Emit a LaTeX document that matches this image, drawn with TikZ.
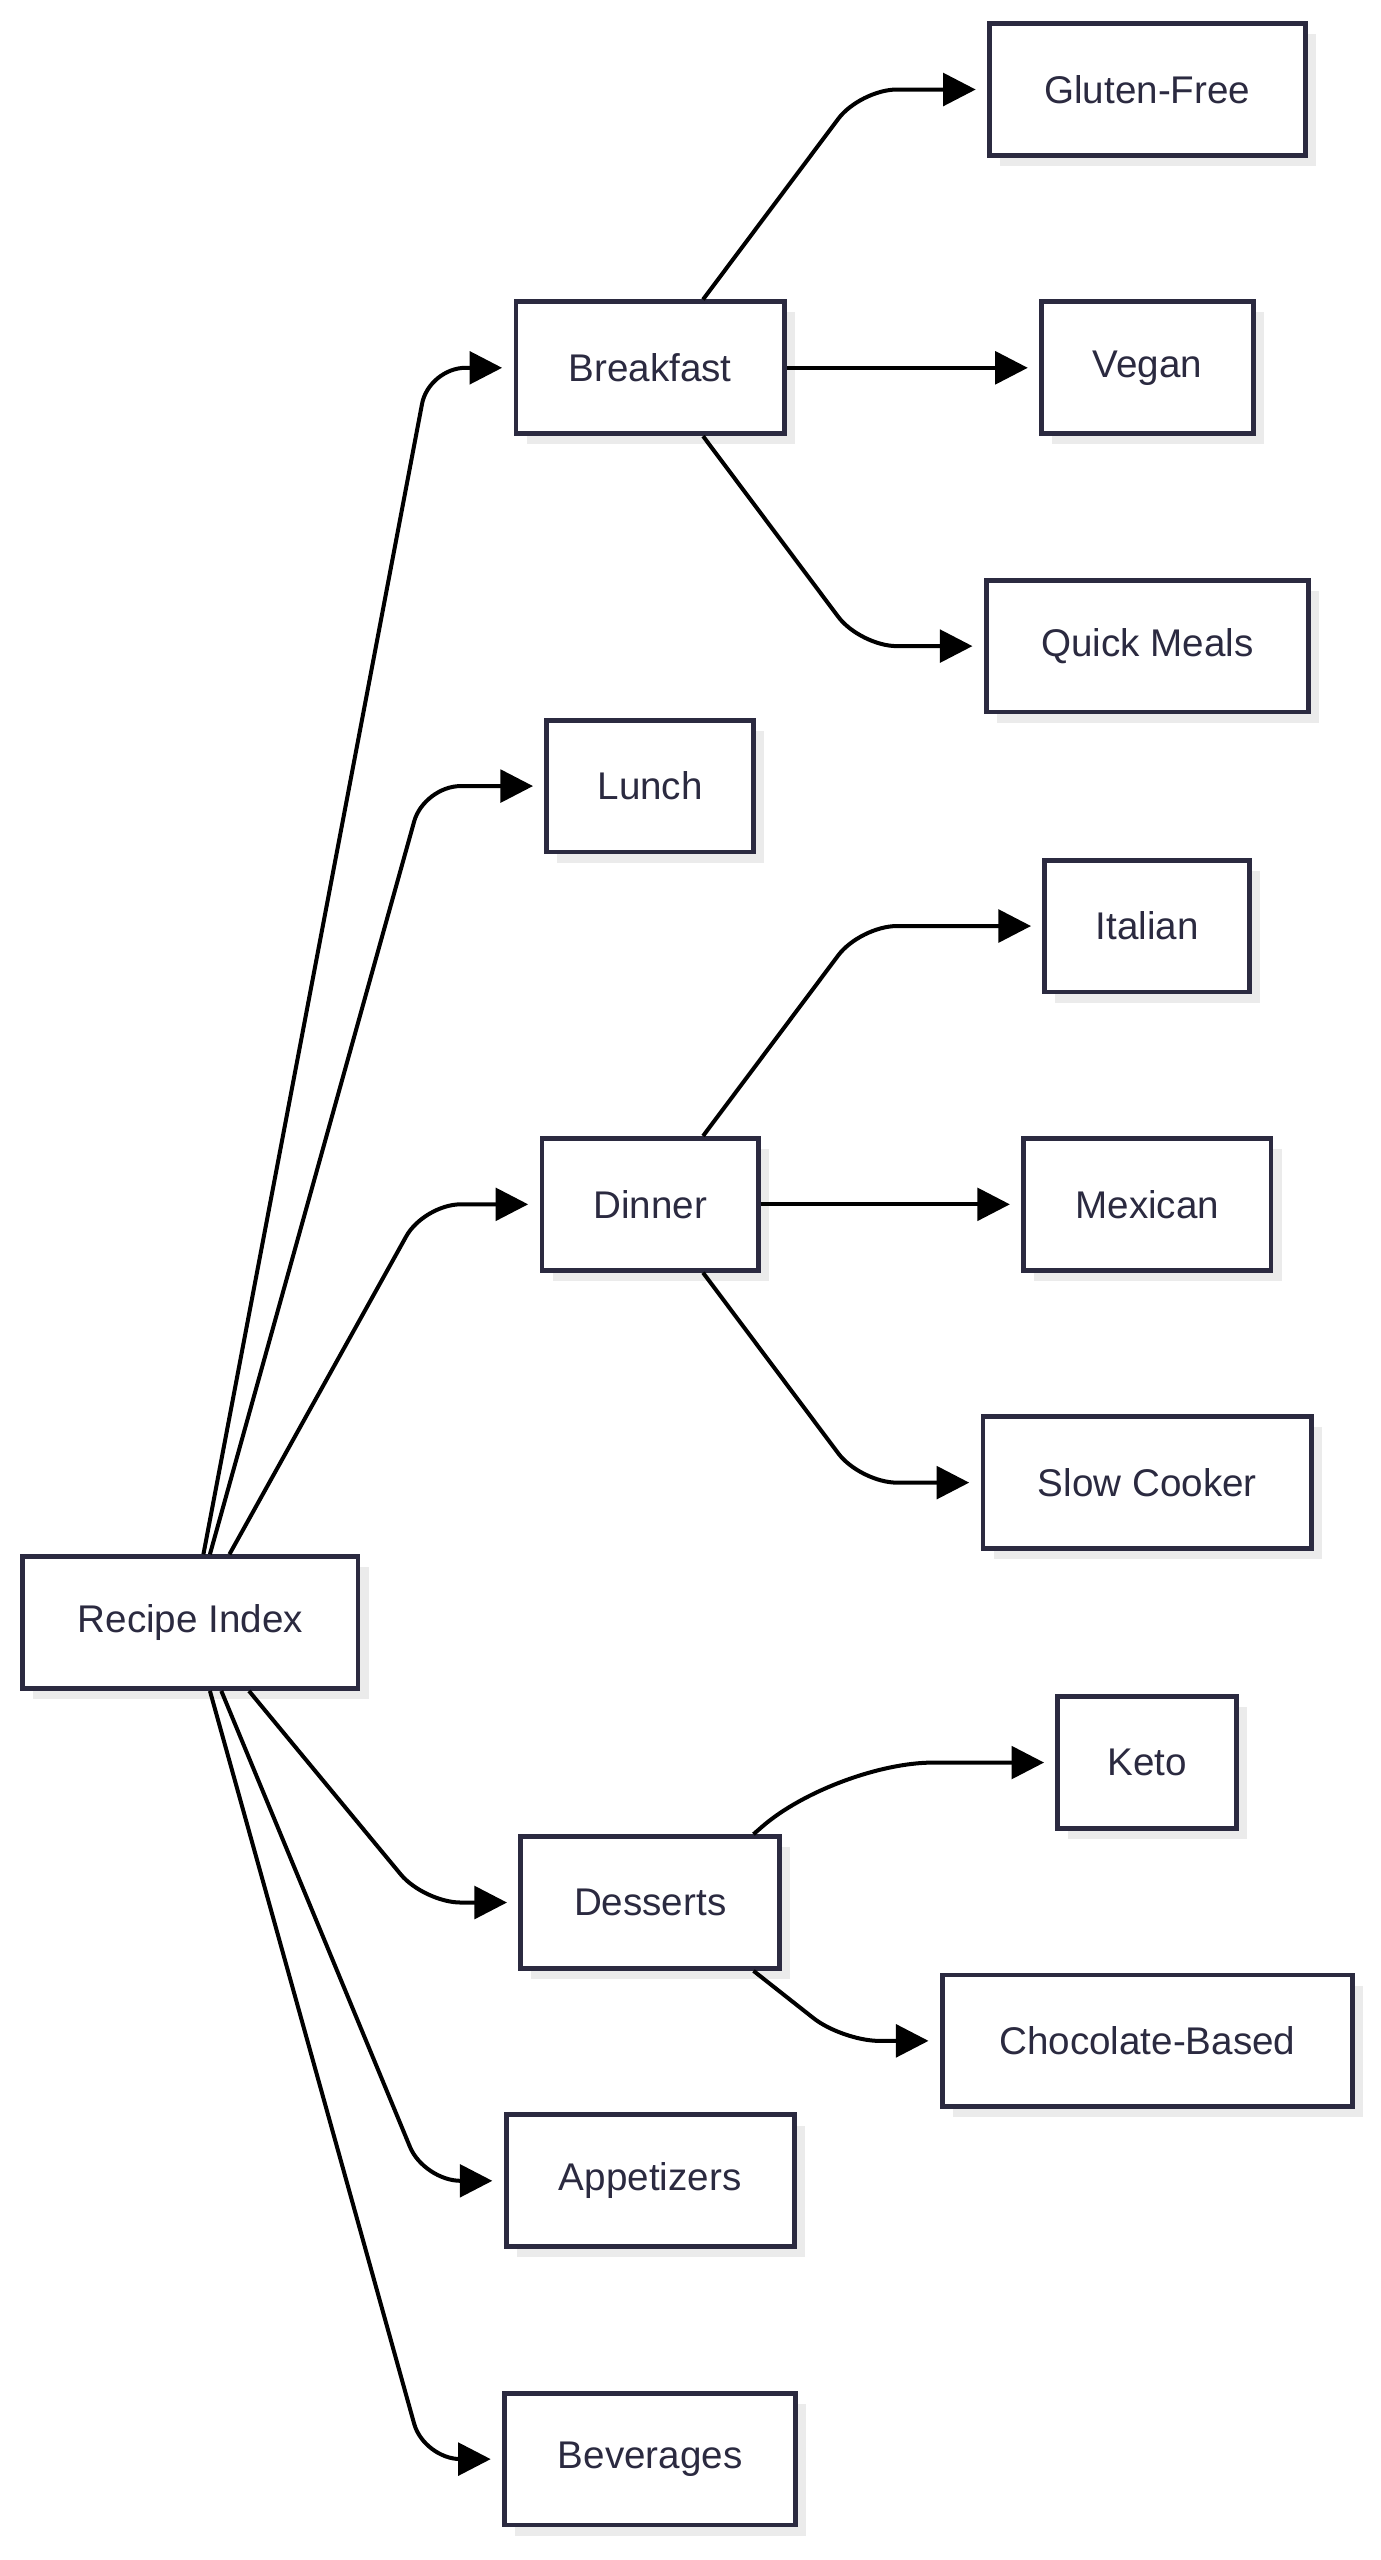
\documentclass[tikz,border=0pt]{standalone}
\usepackage{fontspec}
\setmainfont{Liberation Sans}
\usetikzlibrary{arrows.meta,shadows}

\definecolor{boxline}{HTML}{2B2A40}
\definecolor{boxtext}{HTML}{2B2A40}

\tikzset{
  box/.style={draw=boxline, line width=1.7pt, fill=white, minimum height=1.62cm,
    text=boxtext, font=\fontsize{13.5}{16}\selectfont,
    drop shadow={shadow xshift=0.13cm, shadow yshift=-0.13cm, fill=black!8, opacity=1}},
  edge/.style={line width=1.4pt, rounded corners=0.45cm, -{Triangle[length=0.4cm,width=0.4cm]}, shorten >=0.14cm}
}

\begin{document}
\begin{tikzpicture}[x=0.02cm, y=-0.02cm]
 \useasboundingbox (0,0) rectangle (848,1573);

 % first level
 \node[box, minimum width=4.12cm] (ri) at (117,997) {Recipe Index};
 \node[box, minimum width=3.30cm] (bf) at (399.5,226) {Breakfast};
 \node[box, minimum width=2.54cm] (lu) at (399.5,483) {Lunch};
 \node[box, minimum width=2.66cm] (di) at (399.5,740) {Dinner};
 \node[box, minimum width=3.18cm] (de) at (399.5,1169) {Desserts};
 \node[box, minimum width=3.54cm] (ap) at (399.5,1340) {Appetizers};
 \node[box, minimum width=3.58cm] (be) at (399.5,1511) {Beverages};

 % second level
 \node[box, minimum width=3.88cm] (gf) at (705,55) {Gluten-Free};
 \node[box, minimum width=2.60cm] (ve) at (705,226) {Vegan};
 \node[box, minimum width=3.96cm] (qm) at (705,397) {Quick Meals};
 \node[box, minimum width=2.52cm] (it) at (705,569) {Italian};
 \node[box, minimum width=3.04cm] (me) at (705,740) {Mexican};
 \node[box, minimum width=4.04cm] (sc) at (705,911) {Slow Cooker};
 \node[box, minimum width=2.20cm] (ke) at (705,1083) {Keto};
 \node[box, minimum width=5.04cm] (cb) at (705,1254) {Chocolate-Based};

 % recipe index
 \draw[edge] ([xshift=0.16cm]ri.north) -- ([xshift=-1.04cm]bf.west) -- (bf.west);
 \draw[edge] ([xshift=0.24cm]ri.north) -- ([xshift=-1.48cm]lu.west) -- (lu.west);
 \draw[edge] ([xshift=0.48cm]ri.north) -- ([xshift=-1.42cm]di.west) -- (di.west);
 \draw[edge] ([xshift=0.72cm]ri.south) -- ([xshift=-1.16cm]de.west) -- (de.west);
 \draw[edge] ([xshift=0.38cm]ri.south) -- ([xshift=-0.98cm]ap.west) -- (ap.west);
 \draw[edge] ([xshift=0.24cm]ri.south) -- ([xshift=-0.96cm]be.west) -- (be.west);

 % breakfast
 \draw[edge] ([xshift=0.65cm]bf.north) -- ([xshift=-1.56cm]gf.west) -- (gf.west);
 \draw[edge] (bf.east) -- (ve.west);
 \draw[edge] ([xshift=0.65cm]bf.south) -- ([xshift=-1.52cm]qm.west) -- (qm.west);

 % dinner
 \draw[edge] ([xshift=0.65cm]di.north) -- ([xshift=-2.24cm]it.west) -- (it.west);
 \draw[edge] (di.east) -- (me.west);
 \draw[edge] ([xshift=0.65cm]di.south) -- ([xshift=-1.48cm]sc.west) -- (sc.west);

 % desserts
 \draw[edge, rounded corners=1.2cm] ([xshift=1.27cm]de.north) -- ([xshift=-2.7cm]ke.west) -- (ke.west);
 \draw[edge] ([xshift=1.27cm]de.south) -- ([xshift=-1.2cm]cb.west) -- (cb.west);
\end{tikzpicture}
\end{document}
